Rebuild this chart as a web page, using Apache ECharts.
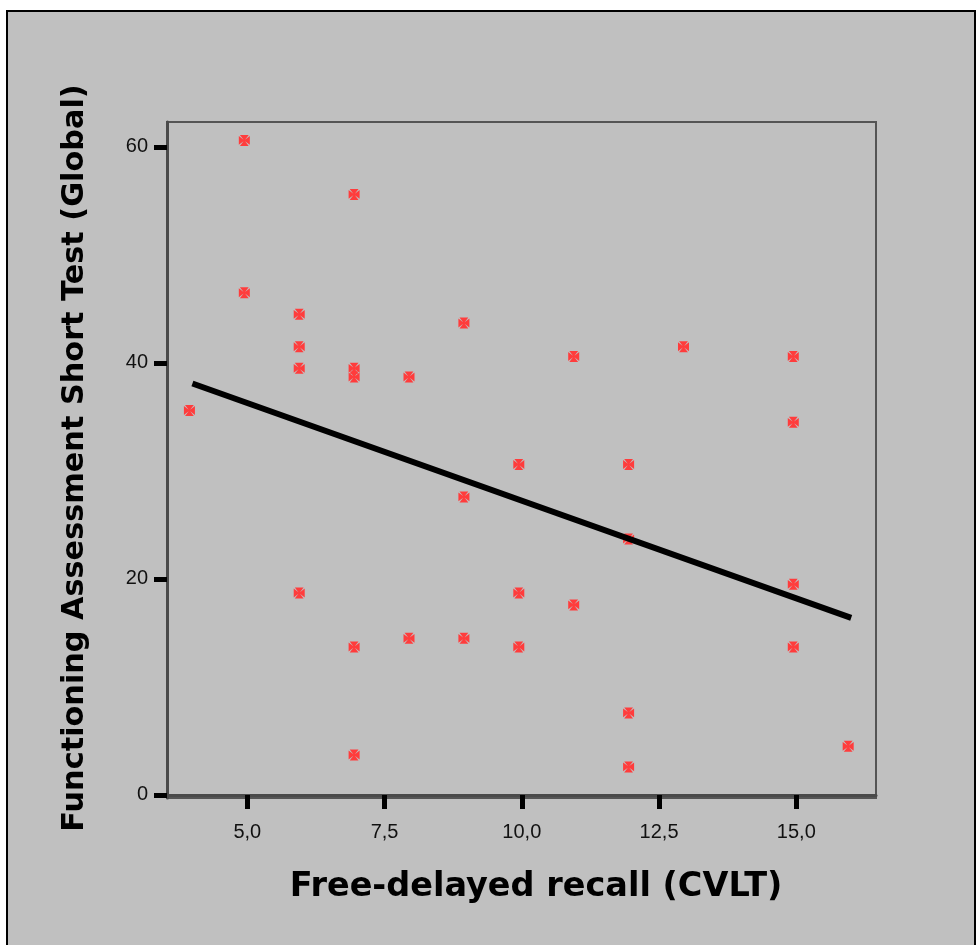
<!DOCTYPE html>
<html>
<head>
<meta charset="utf-8">
<script src="https://cdn.jsdelivr.net/npm/echarts@6/dist/echarts.min.js"></script>
<style>
html,body{margin:0;padding:0;background:#ffffff;}
#frame{position:absolute;left:6px;top:10px;width:970px;height:960px;background:#c0c0c0;border:2px solid #000;box-sizing:border-box;}
#chart{position:absolute;left:0;top:0;width:980px;height:945px;}
</style>
</head>
<body>
<div id="frame"></div>
<div id="chart"></div>
<script>
// Data
const recallX = [4, 5, 5, 6, 6, 6, 6, 7, 7, 7, 7, 7, 8, 8, 9, 9, 9, 10, 10, 10, 11, 11, 12, 12, 12, 12, 13, 15, 15, 15, 15, 16];
const fastY   = [35.6, 60.6, 46.5, 44.5, 41.5, 39.5, 18.7, 55.6, 39.5, 38.7, 13.7, 3.7, 38.7, 14.5, 43.7, 27.6, 14.5, 30.6, 18.7, 13.7, 40.6, 17.6, 30.6, 23.7, 7.6, 2.6, 41.5, 40.6, 34.5, 19.5, 13.7, 4.5];
const fitX = [4, 16];
const fitY = [38.1, 16.4];
const xTicks = [5, 7.5, 10, 12.5, 15];
const yTicks = [0, 20, 40, 60];
const xTitle = 'Free-delayed recall (CVLT)';
const yTitle = 'Functioning Assessment Short Test (Global)';

const points = recallX.map((x, i) => [x, fastY[i]]);
const fitLine = fitX.map((x, i) => [x, fitY[i]]);

const crossPath = 'path://M1 0 L9 0 L5.7 4.3 L10 1 L10 9 L5.7 5.7 L9 10 L1 10 L4.3 5.7 L0 9 L0 1 L4.3 4.3 Z';

const chart = echarts.init(document.getElementById('chart'), null, {renderer: 'canvas'});
chart.setOption({
  backgroundColor: 'transparent',
  animation: false,
  grid: {left: 167, top: 122, width: 709, height: 676, show: true, borderColor: '#555555', borderWidth: 2, backgroundColor: 'transparent'},
  xAxis: {
    type: 'value', min: 3.537, max: 16.452,
    splitLine: {show: false},
    axisLine: {show: true, lineStyle: {color: '#4a4a4a', width: 3}},
    axisTick: {show: true, customValues: xTicks, length: 14, lineStyle: {color: '#000', width: 5}},
    axisLabel: {show: true, customValues: xTicks, margin: 24, fontFamily: 'Liberation Sans', fontSize: 20, color: '#111',
      formatter: v => v.toFixed(1).replace('.', ',')}
  },
  yAxis: {
    type: 'value', min: -0.28, max: 62.31,
    splitLine: {show: false},
    axisLine: {show: true, lineStyle: {color: '#4a4a4a', width: 3}},
    axisTick: {show: true, customValues: yTicks, length: 13, lineStyle: {color: '#000', width: 5}},
    axisLabel: {show: true, customValues: yTicks, margin: 19, fontFamily: 'Liberation Sans', fontSize: 20, color: '#111',
      formatter: v => String(Math.round(v))}
  },
  graphic: [
    {type: 'text', x: 536, y: 887, style: {text: xTitle, x: 0, y: 0, align: 'center', verticalAlign: 'middle', font: 'bold 33.5px "DejaVu Sans"', fill: '#000'}},
    {type: 'text', x: 75, y: 458, rotation: Math.PI / 2, style: {text: yTitle, x: 0, y: 0, align: 'center', verticalAlign: 'middle', font: 'bold 30.3px "DejaVu Sans"', fill: '#000'}}
  ],
  series: [
    {type: 'scatter', data: points, symbol: crossPath, symbolSize: 11, symbolOffset: [-3, 0], itemStyle: {color: '#ff3c3c', opacity: 1}, z: 2},
    {type: 'line', data: fitLine, symbol: 'none', lineStyle: {color: '#000', width: 6}, z: 3}
  ]
});
</script>
</body>
</html>
